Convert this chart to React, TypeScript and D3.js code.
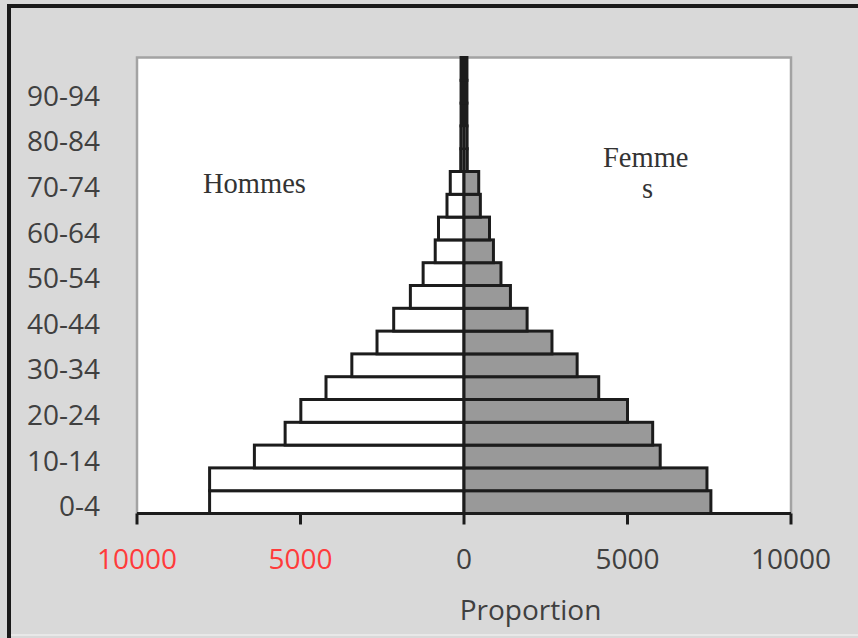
import React from "react";
import * as d3 from "d3";

const ageGroups = [
  "0-4", "5-9", "10-14", "15-19", "20-24", "25-29", "30-34", "35-39", "40-44", "45-49",
  "50-54", "55-59", "60-64", "65-69", "70-74", "75-79", "80-84", "85-89", "90-94", "95-99",
];
const hommes = [7780, 7780, 6410, 5470, 4990, 4220, 3430, 2660, 2150, 1640, 1250, 880, 780, 520, 420, 100, 95, 90, 90, 90];
const femmes = [7550, 7430, 6000, 5770, 5000, 4120, 3460, 2690, 1930, 1420, 1130, 900, 780, 500, 450, 100, 95, 90, 90, 90];
const xTicks = [-10000, -5000, 0, 5000, 10000];
const labelEvery = 2;

const W = 858;
const H = 638;
const plot = { left: 137, right: 791, top: 57.5, bottom: 513.5 };

export default function App() {
  const x = d3.scaleLinear().domain([-10000, 10000]).range([plot.left, plot.right]);
  const y = d3
    .scaleBand<string>()
    .domain(ageGroups)
    .range([plot.bottom, plot.top])
    .padding(0);
  const bw = y.bandwidth();
  const stroke = "#1c1c1c";
  const font = "'Open Sans', sans-serif";
  const serif = "'Liberation Serif', 'Times New Roman', serif";

  return (
    <svg width={W} height={H} style={{ position: "absolute", left: 0, top: 0 }}>
      <rect x={0} y={0} width={W} height={H} fill="#d9d9d9" />
      {/* outer frame */}
      <line x1={9} y1={6} x2={W} y2={6} stroke="#1a1a1a" strokeWidth={4} />
      <line x1={9} y1={4} x2={9} y2={H} stroke="#1a1a1a" strokeWidth={4} />
      <line x1={11} y1={635} x2={W} y2={635} stroke="#ececec" strokeWidth={1.5} />
      {/* plot area */}
      <rect
        x={plot.left}
        y={plot.top}
        width={plot.right - plot.left}
        height={plot.bottom - plot.top}
        fill="#ffffff"
        stroke="#a3a3a3"
        strokeWidth={2.5}
      />
      {/* bars */}
      {ageGroups.map((g, i) => (
        <g key={g}>
          <rect
            x={x(-hommes[i])}
            y={y(g)!}
            width={x(0) - x(-hommes[i])}
            height={bw}
            fill="#ffffff"
            stroke={stroke}
            strokeWidth={3}
          />
          <rect
            x={x(0)}
            y={y(g)!}
            width={x(femmes[i]) - x(0)}
            height={bw}
            fill="#999999"
            stroke={stroke}
            strokeWidth={3}
          />
        </g>
      ))}
      {/* x axis */}
      <line x1={plot.left} y1={plot.bottom} x2={plot.right} y2={plot.bottom} stroke={stroke} strokeWidth={3} />
      {xTicks.map((t) => (
        <g key={t}>
          <line x1={x(t)} y1={plot.bottom} x2={x(t)} y2={plot.bottom + 11} stroke={stroke} strokeWidth={3} />
          <text
            x={x(t)}
            y={569}
            textAnchor="middle"
            fontFamily={font}
            fontSize={28}
            fill={t < 0 ? "#ff3b3b" : "#404040"}
          >
            {Math.abs(t)}
          </text>
        </g>
      ))}
      <text x={530.5} y={620} textAnchor="middle" fontFamily={font} fontSize={28} fill="#404040">
        Proportion
      </text>
      {/* y labels */}
      {ageGroups.map((g, i) =>
        i % labelEvery === 0 ? (
          <text
            key={g}
            x={100}
            y={y(g)! + bw / 2 + 14}
            textAnchor="end"
            fontFamily={font}
            fontSize={28}
            fill="#404040"
          >
            {g}
          </text>
        ) : null
      )}
      {/* series labels */}
      <text x={203} y={193} fontFamily={serif} fontSize={28.5} fill="#333333">
        Hommes
      </text>
      <text x={603} y={167} fontFamily={serif} fontSize={28.5} fill="#333333">
        Femme
      </text>
      <text x={642} y={198} fontFamily={serif} fontSize={28.5} fill="#333333">
        s
      </text>
    </svg>
  );
}
